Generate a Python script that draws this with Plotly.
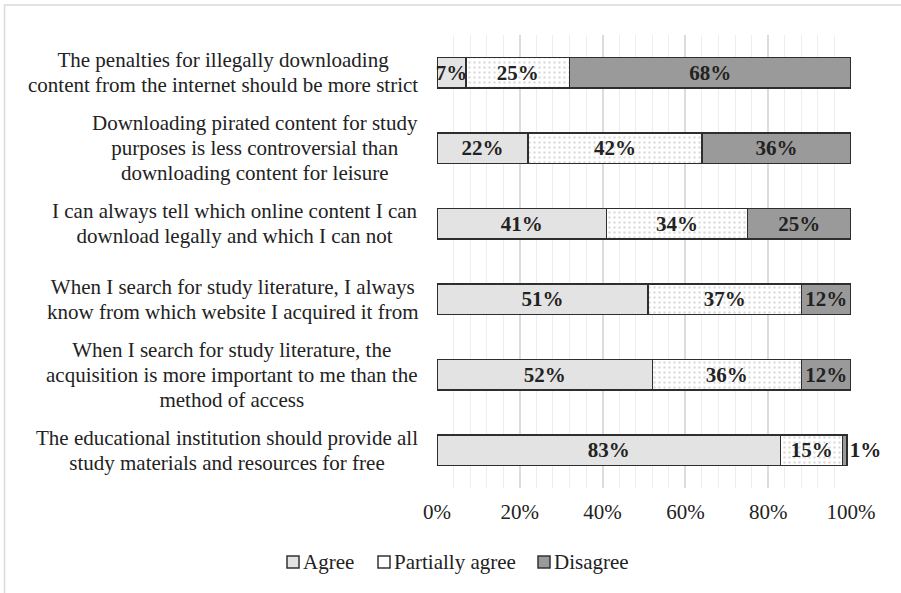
import plotly.graph_objects as go

# Survey statements (top to bottom) and response shares in percent
statements = [
    ["The penalties for illegally downloading",
     "content from the internet should be more strict"],
    ["Downloading pirated content for study",
     "purposes is less controversial than",
     "downloading content for leisure"],
    ["I can always tell which online content I can",
     "download legally and which I can not"],
    ["When I search for study literature, I always",
     "know from which website I acquired it from"],
    ["When I search for study literature, the",
     "acquisition is more important to me than the",
     "method of access"],
    ["The educational institution should provide all",
     "study materials and resources for free"],
]
agree = [7, 22, 41, 51, 52, 83]
partially_agree = [25, 42, 34, 37, 36, 15]
disagree = [68, 36, 25, 12, 12, 1]

series_names = ["Agree", "Partially agree", "Disagree"]
series_colors = ["#e3e3e3", "#ffffff", "#9a9a9a"]

x_ticks = [0, 20, 40, 60, 80, 100]
x_tick_labels = ["0%", "20%", "40%", "60%", "80%", "100%"]

SERIF = "Liberation Serif, Times New Roman, serif"
TEXT = "#222222"
FS = 21
OUTLINE = dict(color="#2e2e2e", width=1.5)
BAR_TEXT = dict(family=SERIF, size=FS, color=TEXT, weight="bold")

# plot-area geometry in pixels
L, R, T, B = 437, 50, 35, 105
W, H = 901, 593
PW, PH = W - L - R, H - T - B


def px_x(p):
    return (p - L) / PW


def px_y(p):
    return (H - B - p) / PH


ids = list(range(len(statements)))
values = [agree, partially_agree, disagree]

fig = go.Figure()
for k, (name, vals, col) in enumerate(zip(series_names, values, series_colors)):
    marker = dict(color=col, line=OUTLINE)
    if name == "Partially agree":
        marker["pattern"] = dict(shape=".", fgcolor="#b8b8b8", bgcolor="#ffffff",
                                 size=5, solidity=0.18)
    last = k == len(series_names) - 1
    fig.add_trace(go.Bar(
        name=name, y=ids, x=vals, orientation="h", marker=marker,
        text=[f"{v}%" for v in vals],
        textposition=[("outside" if (last and v < 5) else "inside") for v in vals],
        insidetextanchor="middle", textangle=0, constraintext="none",
        textfont=BAR_TEXT, outsidetextfont=BAR_TEXT, insidetextfont=BAR_TEXT,
        cliponaxis=False, showlegend=False, hoverinfo="x+name",
    ))

# Statement labels, centred line by line, to the left of the bars
for i, lines in enumerate(statements):
    txt = "<br>".join(f'<span style="font-size:{FS}px">{ln}</span>' for ln in lines)
    fig.add_annotation(
        x=0, xref="paper", y=i, yref="y", text=txt, showarrow=False,
        xanchor="right", yanchor="middle", align="center", xshift=-17,
        font=dict(family=SERIF, size=19.2, color=TEXT),
    )

# Legend row: swatch followed by label
legend_swatch_x = [287, 378, 538]
legend_y = 562
for name, col, sx in zip(series_names, series_colors, legend_swatch_x):
    fig.add_shape(
        type="rect", xref="paper", yref="paper",
        x0=px_x(sx), x1=px_x(sx + 12), y0=px_y(legend_y + 6), y1=px_y(legend_y - 6),
        line=dict(color="#333333", width=1.5), fillcolor=col,
    )
    fig.add_annotation(
        x=px_x(sx + 14), xref="paper", y=px_y(legend_y), yref="paper",
        text=name, showarrow=False, xanchor="left", yanchor="middle",
        font=dict(family=SERIF, size=FS, color=TEXT),
    )

# Light outer frame around the chart area
fig.add_shape(
    type="rect", xref="paper", yref="paper",
    x0=px_x(4.5), x1=px_x(930), y0=px_y(620), y1=px_y(5),
    line=dict(color="#dadada", width=1.5), fillcolor="rgba(0,0,0,0)", layer="below",
)

fig.update_layout(
    width=W, height=H,
    margin=dict(l=L, r=R, t=T, b=B),
    paper_bgcolor="white", plot_bgcolor="white",
    barmode="stack", bargap=0.6,
    font=dict(family=SERIF, size=FS, color=TEXT),
    showlegend=False,
    xaxis=dict(
        range=[0, 100], tickvals=x_ticks, ticktext=x_tick_labels,
        showgrid=True, gridcolor="#dcdcdc", gridwidth=1.5,
        minor=dict(dtick=4, showgrid=True, gridcolor="#eeeeee", gridwidth=1),
        zeroline=False, showline=False, ticks="", ticklabelstandoff=9,
        tickfont=dict(family=SERIF, size=FS, color=TEXT),
        fixedrange=True,
    ),
    yaxis=dict(
        autorange="reversed", showticklabels=False, showgrid=False,
        zeroline=False, showline=False, ticks="", fixedrange=True,
    ),
)

fig.write_html("out.html")
